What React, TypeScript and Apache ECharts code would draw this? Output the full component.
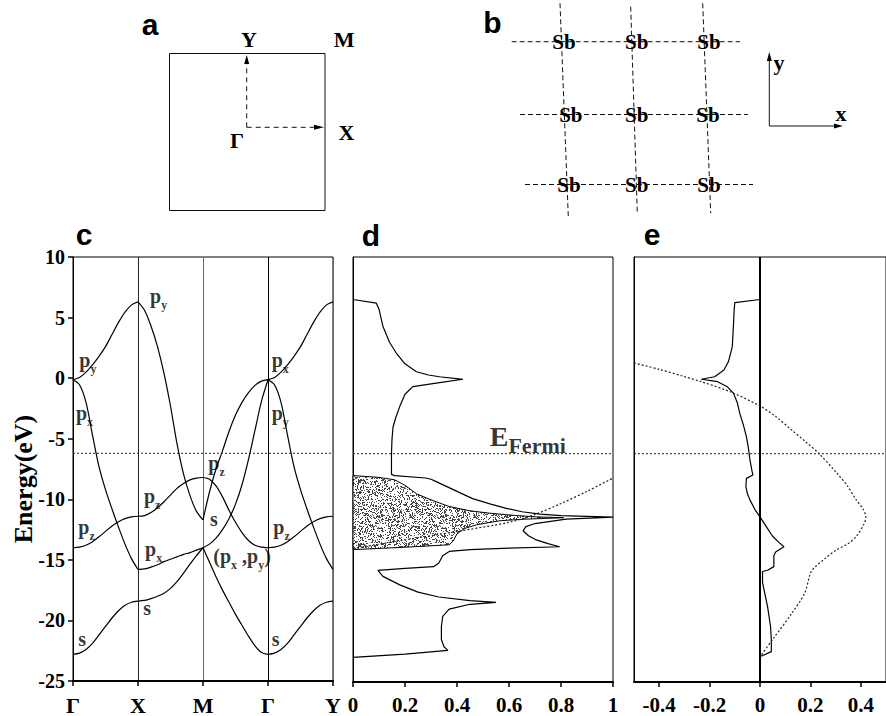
import React, { useEffect, useRef } from 'react';
import * as echarts from 'echarts';

const SERIF = "Liberation Serif, Times New Roman, Times, serif";
const SANS = "Liberation Sans, Arial, Helvetica, sans-serif";

// ---------- panel c : band structure ----------
const K_LABELS = ['Γ', 'X', 'M', 'Γ', 'Y'];
const E_FERMI = -6.2;
const T_STEPS = [0, 0.1, 0.2, 0.3, 0.4, 0.5, 0.6, 0.7, 0.8, 0.9, 1];

// Γ -> X
const GX_PY = [-0.13, 0.05, 0.5, 1.1, 1.8, 2.6, 3.6, 4.6, 5.45, 6.05, 6.3];
const GX_PX = [-0.13, -0.55, -2.0, -4.7, -7.3, -9.2, -10.8, -12.3, -13.7, -14.9, -15.8];
const GX_PZ = [-14.0, -13.95, -13.8, -13.5, -13.1, -12.65, -12.2, -11.85, -11.6, -11.45, -11.4];
const GX_S = [-22.8, -22.7, -22.4, -21.9, -21.2, -20.5, -19.8, -19.2, -18.75, -18.5, -18.4];
// X -> M
const XM_UP = [6.3, 5.6, 4.3, 2.6, 0.4, -2.3, -5.4, -7.9, -9.7, -11.0, -11.7];
const XM_PZ = [-11.4, -11.35, -11.1, -10.7, -10.2, -9.65, -9.1, -8.7, -8.4, -8.25, -8.2];
const XM_PX = [-15.8, -15.75, -15.6, -15.4, -15.15, -14.95, -14.75, -14.55, -14.4, -14.2, -14.0];
const XM_S = [-18.4, -18.35, -18.2, -18.0, -17.75, -17.35, -16.8, -16.1, -15.35, -14.65, -14.0];
// M -> Γ
const MG_PZ = [-8.2, -8.35, -8.9, -9.8, -10.9, -11.9, -12.75, -13.4, -13.8, -13.95, -14.0];
const MG_S1 = [-11.7, -9.4, -7.5, -6.0, -4.4, -3.05, -2.0, -1.2, -0.6, -0.25, -0.13];
const MG_P = [-14.0, -13.7, -13.2, -12.5, -11.6, -10.4, -8.8, -6.7, -4.3, -1.9, -0.13];
const MG_S = [-14.0, -15.2, -16.4, -17.5, -18.5, -19.5, -20.4, -21.3, -22.1, -22.65, -22.8];
// Γ -> Y
const GY_PX = [-0.13, 0.05, 0.5, 1.1, 1.8, 2.6, 3.6, 4.6, 5.45, 6.05, 6.3];
const GY_PY = [-0.13, -0.55, -2.0, -4.7, -7.3, -9.2, -10.8, -12.3, -13.7, -14.9, -15.8];
const GY_PZ = [-14.0, -13.95, -13.8, -13.5, -13.1, -12.65, -12.2, -11.85, -11.6, -11.45, -11.4];
const GY_S = [-22.8, -22.7, -22.4, -21.9, -21.2, -20.5, -19.8, -19.2, -18.75, -18.5, -18.4];

const SEGMENTS = [
  { start: 0, bands: [GX_PY, GX_PX, GX_PZ, GX_S] },
  { start: 1, bands: [XM_UP, XM_PZ, XM_PX, XM_S] },
  { start: 2, bands: [MG_PZ, MG_S1, MG_P, MG_S] },
  { start: 3, bands: [GY_PX, GY_PY, GY_PZ, GY_S] },
];

// orbital labels [k, E, text]
const BAND_LABELS: [number, number, string][] = [
  [1.185, 6.66, '{p|p}{s|y}'],
  [0.097, 1.43, '{p|p}{s|y}'],
  [0.046, -2.93, '{p|p}{s|x}'],
  [3.057, 1.43, '{p|p}{s|x}'],
  [3.057, -2.93, '{p|p}{s|y}'],
  [2.082, -7.05, '{p|p}{s|z}'],
  [1.092, -9.85, '{p|p}{s|z}'],
  [0.082, -12.4, '{p|p}{s|z}'],
  [2.108, -11.72, '{p|s}'],
  [3.082, -12.4, '{p|p}{s|z}'],
  [1.108, -14.22, '{p|p}{s|x}'],
  [2.159, -14.8, '{p|(}{p|p}{s|x}{p| ,}{p|p}{s|y}{p|)}'],
  [1.082, -19.08, '{p|s}'],
  [0.082, -21.63, '{p|s}'],
  [3.057, -21.63, '{p|s}'],
];

// ---------- panel d : density of states ----------
const DOS_TOTAL: [number, number][] = [
  [0, 6.5], [0.09, 6.2], [0.1, 5.7], [0.115, 4.3], [0.14, 3.0], [0.167, 2.07], [0.2, 1.2],
  [0.244, 0.55], [0.29, 0.28], [0.333, 0.14], [0.423, -0.07], [0.333, -0.35], [0.23, -0.68],
  [0.2, -1.3], [0.18, -2.3], [0.165, -3.2], [0.154, -4.0], [0.15, -5.0], [0.148, -6.2],
  [0.148, -7.9], [0.16, -8.0], [0.28, -8.2], [0.3, -8.3], [0.32, -8.5], [0.4, -9.3],
  [0.46, -9.9], [0.53, -10.35], [0.59, -10.7], [0.65, -10.98], [0.72, -11.17], [0.8, -11.3],
  [1.0, -11.42], [0.82, -11.58], [0.7, -11.95], [0.665, -12.2], [0.654, -12.55], [0.675, -12.95],
  [0.705, -13.3], [0.75, -13.6], [0.795, -13.86], [0.6, -13.98], [0.45, -14.1], [0.37, -14.25],
  [0.345, -14.6], [0.33, -15.2], [0.31, -15.5], [0.2, -15.65], [0.096, -15.8], [0.115, -16.3],
  [0.18, -17.0], [0.25, -17.6], [0.33, -18.0], [0.45, -18.3], [0.55, -18.44], [0.45, -18.6],
  [0.37, -19.0], [0.345, -19.6], [0.34, -20.45], [0.34, -21.5], [0.35, -22.1], [0.365, -22.4],
  [0.2, -22.7], [0, -22.97],
];
const DOS_SHADED: [number, number][] = [
  [0, -8.0], [0.1, -8.15], [0.16, -8.35], [0.2, -8.8], [0.244, -9.5], [0.3, -10.0],
  [0.37, -10.55], [0.45, -10.9], [0.526, -11.1], [0.62, -11.28], [0.705, -11.4], [0.81, -11.47],
  [0.65, -11.6], [0.565, -11.72], [0.475, -12.05], [0.43, -12.35], [0.4, -12.8], [0.385, -13.4],
  [0.37, -13.7], [0.2, -13.9], [0, -14.1],
];
const DOS_DOTTED: [number, number][] = [
  [0, -14.0], [0.2, -13.3], [0.4, -12.6], [0.6, -11.85], [0.7, -11.2], [0.8, -10.3],
  [0.9, -9.3], [1.0, -8.2],
];
const FERMI_LABEL: [number, number, string] = [0.526, -4.75, '{E|E}{F|Fermi}'];

// ---------- panel e ----------
const E_SOLID: [number, number][] = [
  [0, 6.5], [-0.1, 6.24], [-0.103, 5.5], [-0.105, 4.5], [-0.11, 2.6], [-0.125, 1.4],
  [-0.143, 0.7], [-0.18, 0.14], [-0.233, -0.07], [-0.168, -0.27], [-0.13, -0.68],
  [-0.105, -1.23], [-0.09, -2.0], [-0.08, -2.9], [-0.065, -3.9], [-0.054, -4.8],
  [-0.047, -5.6], [-0.04, -6.7], [-0.032, -7.6], [-0.028, -7.96], [-0.054, -8.23],
  [-0.056, -8.9], [-0.05, -9.5], [-0.04, -10.0], [-0.02, -10.8], [0, -11.4], [0.025, -12.2],
  [0.05, -13.0], [0.075, -13.5], [0.095, -13.86], [0.062, -14.3], [0.055, -14.6],
  [0.055, -15.5], [0.03, -15.8], [0.01, -15.9], [0.01, -16.8], [0.02, -17.8], [0.03, -18.8],
  [0.042, -20.45], [0.045, -21.5], [0.045, -22.5], [0.005, -22.87],
];
const E_DOTTED: [number, number][] = [
  [-0.5, 1.28], [-0.4, 0.75], [-0.3, 0.15], [-0.233, -0.27], [-0.118, -1.1], [0, -2.27],
  [0.06, -3.1], [0.126, -4.25], [0.18, -5.2], [0.235, -6.2], [0.305, -7.8], [0.345, -8.8],
  [0.382, -10.0], [0.41, -10.8], [0.42, -11.4], [0.41, -12.1], [0.382, -13.0], [0.35, -13.6],
  [0.305, -14.1], [0.26, -14.8], [0.215, -15.6], [0.2, -16.05], [0.177, -17.7],
  [0.126, -19.35], [0.05, -21.5], [0.004, -22.8],
];
const E_TICKS = [-0.4, -0.2, 0, 0.2, 0.4];

const SB_ROWS = [
  [564, 636.7, 709],
  [570.8, 636.7, 708],
  [569, 636.7, 709],
];
const SB_ROW_Y = [41.7, 115, 185];

function makeStipple(): string {
  const c = document.createElement('canvas');
  c.width = 64;
  c.height = 64;
  const ctx = c.getContext('2d');
  if (!ctx) return '';
  ctx.fillStyle = '#ffffff';
  ctx.fillRect(0, 0, 64, 64);
  ctx.fillStyle = '#444444';
  let s = 987654;
  for (let y = 0; y < 64; y++) {
    for (let x = 0; x < 64; x++) {
      s = (s * 1103515245 + 12345) & 0x7fffffff;
      if (((s >> 16) % 100) < 30) ctx.fillRect(x, y, 1, 1);
    }
  }
  return c.toDataURL();
}

const boldSerif = (size: number) => `bold ${size}px ${SERIF}`;
const boldSans = (size: number) => `bold ${size}px ${SANS}`;

function txt(x: number, y: number, text: string, font: string, extra: any = {}) {
  return {
    type: 'text',
    x,
    y,
    ...extra,
    style: { text, font, fill: '#000', textAlign: 'center', textVerticalAlign: 'middle' },
  };
}
function seg(x1: number, y1: number, x2: number, y2: number, dash: number[] | null, w = 1) {
  return {
    type: 'line',
    shape: { x1, y1, x2, y2 },
    style: { stroke: '#111', lineWidth: w, lineDash: dash || undefined },
  };
}
function tri(points: number[][]) {
  return { type: 'polygon', shape: { points }, style: { fill: '#000' } };
}

export default function App() {
  const ref = useRef<HTMLDivElement>(null);
  useEffect(() => {
    if (!ref.current) return;
    const chart = echarts.init(ref.current, null, { renderer: 'svg' });
    const stipple = makeStipple();
    const shadeFill: any = stipple ? { image: stipple, repeat: 'repeat' } : '#aaa';

    const bandSeries: any[] = [];
    SEGMENTS.forEach((sg) => {
      sg.bands.forEach((b) => {
        bandSeries.push({
          type: 'line',
          xAxisIndex: 0,
          yAxisIndex: 0,
          data: T_STEPS.map((t, i) => [sg.start + t, b[i]]),
          smooth: 0.3,
          showSymbol: false,
          symbol: 'none',
          silent: true,
          lineStyle: { color: '#000', width: 1.2 },
          z: 3,
        });
      });
    });

    const richP = {
      p: { fontFamily: SERIF, fontWeight: 'bold', fontSize: 20, lineHeight: 22, color: '#000', verticalAlign: 'top' },
      s: { fontFamily: SERIF, fontWeight: 'bold', fontSize: 12, lineHeight: 12, color: '#000', padding: [13, 0, 0, 0], verticalAlign: 'top' },
    };

    const axisFont = { fontFamily: SERIF, fontWeight: 'bold', color: '#000' };

    const fermiLine = (xi: number, a: number, b: number) => ({
      type: 'line',
      xAxisIndex: xi,
      yAxisIndex: xi,
      data: [[a, E_FERMI], [b, E_FERMI]],
      symbol: 'none',
      silent: true,
      lineStyle: { color: '#222', width: 1, type: [2, 2] },
      z: 2,
    });

    const graphics: any[] = [
      // panel letters
      txt(150, 24, 'a', boldSans(30)),
      txt(492.5, 22, 'b', boldSans(30)),
      txt(84, 234, 'c', boldSans(30)),
      txt(371, 235, 'd', boldSans(30)),
      txt(652, 234, 'e', boldSans(30)),
      // axis name
      txt(23, 479, 'Energy(eV)', boldSerif(26), { rotation: Math.PI / 2 }),
      // panel a
      {
        type: 'rect',
        shape: { x: 169.5, y: 53.5, width: 155.5, height: 157 },
        style: { fill: 'none', stroke: '#111', lineWidth: 1 },
      },
      seg(246.7, 127.3, 246.7, 62, [5, 4]),
      tri([[246.7, 55], [244.2, 64], [249.2, 64]]),
      seg(246.7, 127.3, 316, 127.3, [5, 4]),
      tri([[324, 127.3], [314, 124.8], [314, 129.8]]),
      txt(249, 39, 'Y', boldSerif(22)),
      txt(344, 39, 'M', boldSerif(22)),
      txt(237, 140, 'Γ', boldSerif(22)),
      txt(346.5, 132.5, 'X', boldSerif(22)),
      // panel b lattice
      seg(511.7, 41.7, 740, 41.7, [5, 3]),
      seg(520, 114.5, 748, 114.5, [5, 3]),
      seg(525, 184.5, 753, 184.5, [5, 3]),
      seg(560, 3.3, 568.3, 216.7, [5, 3]),
      seg(630.7, 6.7, 637.3, 213.3, [5, 3]),
      seg(702.7, 3.3, 710.7, 213.3, [5, 3]),
      // panel b axes
      seg(769.3, 126, 769.3, 60, null),
      tri([[769.3, 52], [766.8, 61], [771.8, 61]]),
      seg(769.3, 126, 835, 126, null),
      tri([[843, 126], [834, 123.5], [834, 128.5]]),
      txt(779, 62, 'y', boldSerif(22)),
      txt(841, 113, 'x', boldSerif(22)),
    ];
    SB_ROWS.forEach((row, r) => {
      row.forEach((x) => graphics.push(txt(x, SB_ROW_Y[r], 'Sb', boldSerif(21))));
    });

    const option: any = {
      animation: false,
      backgroundColor: '#fff',
      textStyle: { fontFamily: SERIF, fontWeight: 'bold', color: '#000' },
      grid: [
        { left: 73, top: 257, width: 260, height: 425, show: true, borderColor: '#000', borderWidth: 1, backgroundColor: 'transparent' },
        { left: 353, top: 257, width: 260, height: 425, show: true, borderColor: '#000', borderWidth: 1, backgroundColor: 'transparent' },
        { left: 634, top: 257, width: 260, height: 425, show: true, borderColor: '#000', borderWidth: 1, backgroundColor: 'transparent' },
      ],
      xAxis: [
        {
          gridIndex: 0,
          type: 'value',
          min: 0,
          max: 4,
          interval: 1,
          axisLine: { show: true, onZero: false, lineStyle: { color: '#000', width: 2 } },
          axisTick: { show: true, inside: false, length: 5, lineStyle: { color: '#000', width: 1.5 } },
          axisLabel: { ...axisFont, fontSize: 22, margin: 13, formatter: (v: number) => K_LABELS[Math.round(v)] },
          splitLine: { show: true, lineStyle: { color: ['#000', '#222', '#666', '#000', '#666'], width: 1 } },
        },
        {
          gridIndex: 1,
          type: 'value',
          min: 0,
          max: 1,
          interval: 0.2,
          axisLine: { show: true, onZero: false, lineStyle: { color: '#000', width: 2 } },
          axisTick: { show: true, inside: false, length: 5, lineStyle: { color: '#000', width: 1.5 } },
          axisLabel: {
            ...axisFont,
            fontSize: 21,
            margin: 12,
            formatter: (v: number) => (Math.abs(v) < 1e-9 ? '0' : Math.abs(v - 1) < 1e-9 ? '1' : v.toFixed(1)),
          },
          splitLine: { show: false },
        },
        {
          gridIndex: 2,
          type: 'value',
          min: -0.5,
          max: 0.5,
          interval: 0.1,
          axisLine: { show: true, onZero: false, lineStyle: { color: '#000', width: 2 } },
          axisTick: { show: true, inside: false, length: 5, customValues: E_TICKS, lineStyle: { color: '#000', width: 1.5 } },
          axisLabel: {
            ...axisFont,
            fontSize: 21,
            margin: 12,
            customValues: E_TICKS,
            formatter: (v: number) => (Math.abs(v) < 1e-9 ? '0' : (Math.round(v * 10) / 10).toFixed(1)),
          },
          splitLine: { show: false },
        },
      ],
      yAxis: [
        {
          gridIndex: 0,
          type: 'value',
          min: -25,
          max: 10,
          interval: 5,
          axisLine: { show: true, onZero: false, lineStyle: { color: '#000', width: 1 } },
          axisTick: { show: true, inside: false, length: 5, lineStyle: { color: '#000', width: 1.5 } },
          axisLabel: { ...axisFont, fontSize: 20, margin: 8 },
          splitLine: { show: false },
        },
        {
          gridIndex: 1,
          type: 'value',
          min: -25,
          max: 10,
          interval: 5,
          axisLine: { show: true, onZero: false, lineStyle: { color: '#000', width: 1 } },
          axisTick: { show: false },
          axisLabel: { show: false },
          splitLine: { show: false },
        },
        {
          gridIndex: 2,
          type: 'value',
          min: -25,
          max: 10,
          interval: 5,
          axisLine: { show: true, onZero: false, lineStyle: { color: '#000', width: 1 } },
          axisTick: { show: false },
          axisLabel: { show: false },
          splitLine: { show: false },
        },
      ],
      series: [
        ...bandSeries,
        fermiLine(0, 0, 4),
        {
          type: 'scatter',
          xAxisIndex: 0,
          yAxisIndex: 0,
          symbolSize: 0,
          silent: true,
          data: BAND_LABELS.map((l) => ({ name: l[2], value: [l[0], l[1]] })),
          label: { show: true, position: 'right', distance: 0, formatter: '{b}', rich: richP },
          z: 5,
        },
        // panel d
        {
          type: 'custom',
          xAxisIndex: 1,
          yAxisIndex: 1,
          silent: true,
          data: [[0.3, -11]],
          renderItem: (_p: any, api: any) => ({
            type: 'polygon',
            shape: { points: DOS_SHADED.map((pt) => api.coord(pt)) },
            style: { fill: shadeFill, stroke: '#000', lineWidth: 1 },
          }),
          z: 1,
        },
        {
          type: 'line',
          xAxisIndex: 1,
          yAxisIndex: 1,
          data: DOS_TOTAL,
          symbol: 'none',
          silent: true,
          lineStyle: { color: '#000', width: 1.2 },
          z: 3,
        },
        {
          type: 'line',
          xAxisIndex: 1,
          yAxisIndex: 1,
          data: DOS_DOTTED,
          symbol: 'none',
          smooth: 0.3,
          silent: true,
          lineStyle: { color: '#222', width: 1.2, type: [2, 2] },
          z: 3,
        },
        fermiLine(1, 0, 1),
        {
          type: 'scatter',
          xAxisIndex: 1,
          yAxisIndex: 1,
          symbolSize: 0,
          silent: true,
          data: [{ name: FERMI_LABEL[2], value: [FERMI_LABEL[0], FERMI_LABEL[1]] }],
          label: {
            show: true,
            position: 'right',
            distance: 0,
            formatter: '{b}',
            rich: {
              E: { fontFamily: SERIF, fontWeight: 'bold', fontSize: 28, lineHeight: 28, color: '#000', verticalAlign: 'top' },
              F: { fontFamily: SERIF, fontWeight: 'bold', fontSize: 22, lineHeight: 22, color: '#000', padding: [12, 0, 0, 0], verticalAlign: 'top' },
            },
          },
          z: 5,
        },
        // panel e
        {
          type: 'line',
          xAxisIndex: 2,
          yAxisIndex: 2,
          data: [[0, -25], [0, 10]],
          symbol: 'none',
          silent: true,
          lineStyle: { color: '#000', width: 2 },
          z: 2,
        },
        {
          type: 'line',
          xAxisIndex: 2,
          yAxisIndex: 2,
          data: E_SOLID,
          symbol: 'none',
          silent: true,
          lineStyle: { color: '#000', width: 1.2 },
          z: 3,
        },
        {
          type: 'line',
          xAxisIndex: 2,
          yAxisIndex: 2,
          data: E_DOTTED,
          symbol: 'none',
          smooth: 0.3,
          silent: true,
          lineStyle: { color: '#222', width: 1.2, type: [2, 2] },
          z: 3,
        },
        fermiLine(2, -0.5, 0.5),
      ],
      graphic: { elements: graphics },
    };
    chart.setOption(option);
    return () => chart.dispose();
  }, []);
  return (
    <div
      ref={ref}
      style={{ position: 'absolute', left: 0, top: 0, width: 886, height: 716, background: '#fff' }}
    />
  );
}
